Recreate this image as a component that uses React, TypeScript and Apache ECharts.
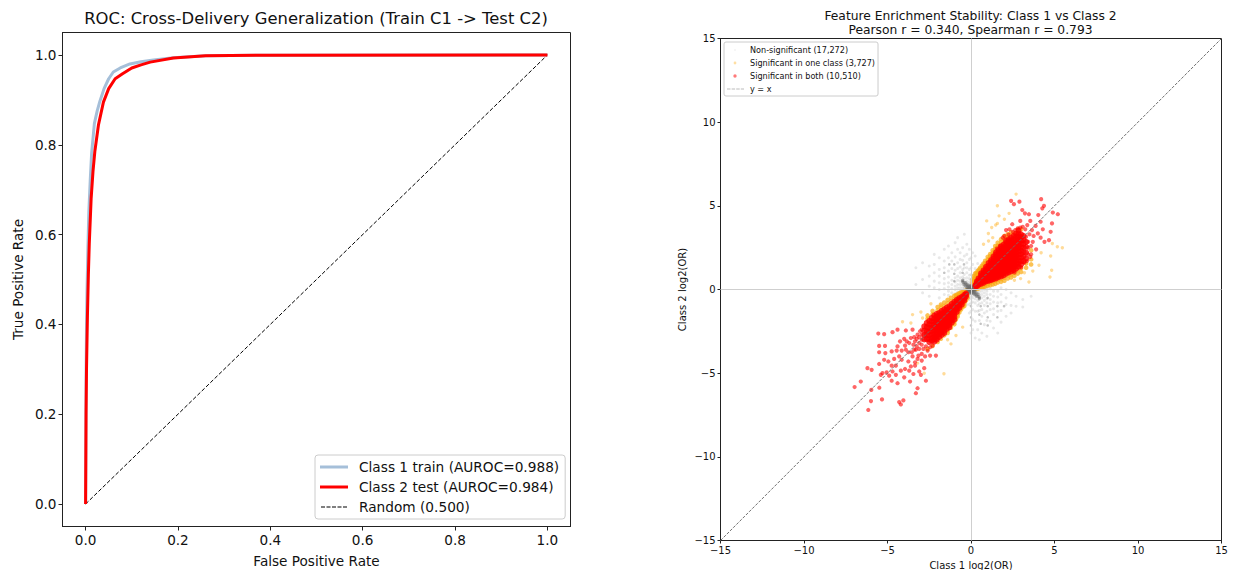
import React, { useEffect, useRef } from "react";
import * as echarts from "echarts";

const rocTicks = [0, 0.2, 0.4, 0.6, 0.8, 1.0];
const enrichTicks = [-15, -10, -5, 0, 5, 10, 15];

const trainFpr = [0, 0.0005, 0.001, 0.002, 0.003, 0.005, 0.007, 0.01, 0.013, 0.019, 0.025, 0.031, 0.04, 0.05, 0.06, 0.075, 0.096, 0.12, 0.147, 0.19, 0.26, 0.4, 1];
const trainTpr = [0, 0.12, 0.27, 0.4, 0.47, 0.57, 0.65, 0.72, 0.78, 0.847, 0.875, 0.897, 0.925, 0.947, 0.962, 0.971, 0.98, 0.985, 0.989, 0.994, 0.998, 0.9995, 1];
const testFpr = [0, 0.0005, 0.001, 0.002, 0.004, 0.006, 0.008, 0.012, 0.016, 0.02, 0.028, 0.0386, 0.05, 0.064, 0.08, 0.1, 0.12, 0.14, 0.19, 0.26, 0.4, 1];
const testTpr = [0, 0.1, 0.2, 0.3, 0.42, 0.51, 0.58, 0.68, 0.74, 0.785, 0.845, 0.895, 0.925, 0.947, 0.958, 0.971, 0.978, 0.984, 0.993, 0.998, 0.9995, 1];
const randomFpr = [0, 1];
const randomTpr = [0, 1];

type Col = [number, number[]];

const redUpperCore: Col[] = [
  [0.28, [0.18, 0.24, 0.3]],
  [0.35, [0.2, 0.28, 0.38, 0.48]],
  [0.45, [0.28, 0.34, 0.42, 0.54, 0.66]],
  [0.6, [0.34, 0.42, 0.5, 0.6, 0.72, 0.84, 0.96]],
  [0.75, [0.4, 0.48, 0.56, 0.66, 0.78, 0.9, 1.02, 1.14]],
  [0.9, [0.48, 0.54, 0.62, 0.74, 0.86, 0.98, 1.1, 1.22, 1.36]],
  [1.05, [0.52, 0.6, 0.68, 0.8, 0.92, 1.04, 1.16, 1.28, 1.42, 1.58]],
  [1.2, [0.56, 0.64, 0.76, 0.88, 1.0, 1.12, 1.24, 1.36, 1.5, 1.64, 1.76]],
  [1.35, [0.62, 0.72, 0.84, 0.96, 1.08, 1.2, 1.32, 1.44, 1.58, 1.72, 1.86, 1.98]],
  [1.5, [0.66, 0.76, 0.9, 1.04, 1.16, 1.28, 1.42, 1.56, 1.68, 1.82, 1.96, 2.1, 2.22]],
  [1.65, [0.74, 0.84, 0.98, 1.12, 1.26, 1.38, 1.5, 1.64, 1.78, 1.92, 2.06, 2.2, 2.36]],
  [1.8, [0.78, 0.9, 1.04, 1.18, 1.32, 1.46, 1.6, 1.74, 1.88, 2.02, 2.16, 2.3, 2.44, 2.58]],
  [1.95, [0.84, 0.98, 1.12, 1.26, 1.4, 1.54, 1.68, 1.82, 1.96, 2.1, 2.24, 2.38, 2.52, 2.68]],
  [2.1, [0.94, 1.08, 1.22, 1.36, 1.5, 1.64, 1.78, 1.92, 2.06, 2.2, 2.34, 2.48, 2.62, 2.78, 2.92]],
  [2.25, [1.02, 1.16, 1.3, 1.44, 1.58, 1.72, 1.86, 2.0, 2.14, 2.28, 2.42, 2.56, 2.7, 2.86, 3.0]],
  [2.4, [1.08, 1.22, 1.36, 1.5, 1.64, 1.78, 1.92, 2.06, 2.2, 2.34, 2.48, 2.62, 2.76, 2.92, 3.08]],
  [2.55, [1.16, 1.3, 1.44, 1.58, 1.72, 1.86, 2.0, 2.14, 2.28, 2.42, 2.56, 2.7, 2.84, 3.0, 3.2]],
  [2.7, [1.24, 1.4, 1.56, 1.72, 1.88, 2.04, 2.2, 2.36, 2.52, 2.68, 2.84, 3.0, 3.16, 3.32]],
  [2.85, [1.36, 1.54, 1.72, 1.9, 2.08, 2.26, 2.44, 2.62, 2.8, 2.98, 3.14, 3.34, 3.52]],
  [3.0, [1.5, 1.7, 1.92, 2.12, 2.32, 2.52, 2.72, 2.92, 3.12, 3.3]],
  [3.15, [1.7, 1.98, 2.24, 2.5, 2.74, 2.96, 3.2]],
  [3.3, [1.85, 2.2, 2.55, 2.85]],
];

const redUpperOutliers: number[][] = [
  [4.2, 5.4], [2.4, 5.3], [2.57, 5.1], [2.9, 5.25], [3.07, 4.75], [3.23, 4.55], [3.47, 4.5], [4.03, 4.45], [4.27, 4.85],
  [4.9, 4.6], [5.2, 4.5], [4.37, 5.0], [4.85, 3.95], [4.17, 4.05], [2.95, 4.1], [2.47, 3.9], [3.37, 3.85], [3.87, 3.8],
  [4.77, 3.45], [4.17, 3.1], [4.67, 2.95], [4.4, 2.85], [3.7, 2.85], [3.9, 2.4], [3.65, 3.55], [3.1, 3.75], [2.8, 3.65],
  [2.1, 3.55], [2.3, 3.6], [3.6, 2.1], [3.75, 3.2], [4.0, 3.35], [4.3, 3.6], [3.55, 4.1], [1.9, 3.1], [3.2, 1.6],
  [2.0, 3.2], [2.25, 3.28], [2.5, 3.45], [2.65, 3.55], [2.95, 3.7], [3.25, 3.6], [3.5, 3.3], [3.6, 2.6], [3.55, 1.95], [3.35, 1.7],
  [3.0, 1.32], [2.6, 1.02], [1.55, 2.45], [1.72, 2.6], [3.42, 2.1], [3.42, 2.5], [3.42, 2.85], [3.3, 3.15],
];

const redLowerCore: Col[] = [
  [-0.3, [-0.24, -0.32, -0.42]],
  [-0.4, [-0.32, -0.42, -0.54, -0.66]],
  [-0.55, [-0.44, -0.52, -0.64, -0.76, -0.9]],
  [-0.7, [-0.52, -0.6, -0.72, -0.84, -0.96, -1.1]],
  [-0.85, [-0.62, -0.72, -0.84, -0.96, -1.08, -1.2, -1.34]],
  [-1.0, [-0.74, -0.88, -1.0, -1.12, -1.24, -1.36, -1.5, -1.64, -1.8]],
  [-1.15, [-0.86, -1.0, -1.14, -1.28, -1.42, -1.56, -1.7, -1.84, -1.98]],
  [-1.3, [-1.0, -1.14, -1.28, -1.42, -1.56, -1.7, -1.84, -1.98, -2.12, -2.26]],
  [-1.45, [-1.08, -1.22, -1.36, -1.5, -1.64, -1.78, -1.92, -2.06, -2.2, -2.36]],
  [-1.6, [-1.18, -1.32, -1.46, -1.6, -1.74, -1.88, -2.02, -2.16, -2.3, -2.46, -2.6]],
  [-1.75, [-1.28, -1.42, -1.56, -1.7, -1.84, -1.98, -2.12, -2.26, -2.4, -2.56, -2.72]],
  [-1.9, [-1.4, -1.54, -1.68, -1.82, -1.96, -2.1, -2.24, -2.38, -2.52, -2.68, -2.84]],
  [-2.05, [-1.46, -1.62, -1.78, -1.94, -2.1, -2.26, -2.42, -2.58, -2.74, -2.9, -3.0]],
  [-2.2, [-1.56, -1.74, -1.92, -2.1, -2.28, -2.46, -2.64, -2.82, -2.98, -3.12]],
  [-2.35, [-1.7, -1.9, -2.1, -2.3, -2.5, -2.7, -2.9, -3.06]],
  [-2.5, [-1.88, -2.08, -2.3, -2.52, -2.74, -2.96, -3.14]],
  [-2.65, [-2.0, -2.24, -2.48, -2.72, -2.96]],
  [-2.8, [-2.2, -2.46, -2.72, -2.98]],
];

const redLowerTail: number[][] = [
  [-6.97, -5.83], [-6.6, -5.5], [-6.2, -4.7], [-5.95, -4.8], [-5.97, -6.0], [-5.99, -6.67], [-6.15, -7.2], [-5.33, -6.57],
  [-5.49, -5.87], [-5.55, -2.63], [-5.2, -2.67], [-5.5, -3.37], [-5.15, -3.37], [-5.5, -3.75], [-5.13, -3.8], [-4.7, -2.55],
  [-4.4, -2.4], [-3.9, -2.45], [-3.5, -2.4], [-4.75, -3.7], [-4.45, -3.65], [-4.4, -3.4], [-5.2, -4.2], [-4.95, -4.3],
  [-5.5, -4.45], [-4.3, -4.0], [-4.15, -4.2], [-4.5, -4.55], [-4.75, -4.55], [-5.05, -4.95], [-5.3, -5.0], [-5.4, -5.1],
  [-4.9, -5.15], [-4.7, -4.9], [-4.5, -5.1], [-4.75, -5.45], [-4.4, -5.6], [-4.0, -5.25], [-3.65, -5.5], [-3.6, -4.6],
  [-4.3, -6.73], [-4.05, -6.63], [-4.2, -6.87], [-3.3, -6.2], [-3.2, -5.9], [-2.7, -5.45], [-3.35, -4.55], [-3.1, -4.9],
  [-2.8, -4.7], [-2.95, -4.25], [-3.2, -4.15], [-3.5, -4.0], [-3.75, -4.3], [-3.9, -3.6], [-3.7, -3.2], [-3.55, -3.75],
  [-3.85, -3.1], [-3.6, -2.9], [-4.0, -2.95], [-3.95, -3.35], [-4.15, -3.65], [-3.35, -4.35], [-2.95, -3.85], [-2.75, -4.0],
  [-3.15, -3.95], [-2.6, -3.65], [-2.1, -3.95], [-2.45, -3.95], [-3.7, -4.85], [-3.95, -4.75], [-4.2, -4.85], [-3.45, -5.05],
  [-3.0, -5.1], [-4.6, -4.15], [-3.75, -3.75], [-3.3, -3.6], [-4.25, -3.1], [-3.45, -3.3], [-3.2, -2.7], [-3.35, -3.1],
  [-3.1, -3.55], [-3.25, -2.95], [-3.05, -2.5], [-3.4, -2.85], [-2.7, -3.4], [-2.45, -3.45], [-2.85, -3.55], [-2.3, -3.35],
  [-2.95, -2.4], [-2.95, -2.7], [-2.95, -3.0], [-2.95, -3.3], [-3.1, -2.85], [-3.1, -3.2], [-3.25, -3.4], [-3.4, -3.6],
];

const orangeUpperHalo: Col[] = [
  [0.1, [0.02, 0.32, 0.45, 0.58]],
  [0.18, [0.03, 0.08, 0.5, 0.65, 0.8]],
  [0.25, [0.04, 0.1, 0.6, 0.75, 0.95]],
  [0.32, [0.05, 0.12, 0.7, 0.85, 1.0]],
  [0.4, [0.06, 0.16, 0.82, 0.95, 1.1]],
  [0.48, [0.08, 0.18, 0.9, 1.05, 1.2]],
  [0.55, [0.1, 0.22, 1.02, 1.15, 1.3]],
  [0.65, [0.12, 0.24, 1.12, 1.28, 1.42]],
  [0.75, [0.15, 0.28, 1.3, 1.42, 1.55]],
  [0.85, [0.18, 0.32, 1.46, 1.58, 1.72]],
  [1.0, [0.22, 0.36, 1.66, 1.8, 1.95]],
  [1.15, [0.26, 0.42, 1.86, 2.0, 2.12]],
  [1.3, [0.3, 0.46, 2.08, 2.2, 2.34]],
  [1.45, [0.34, 0.52, 2.3, 2.44, 2.6]],
  [1.6, [0.42, 0.58, 2.48, 2.62, 2.8]],
  [1.8, [0.46, 0.62, 2.68, 2.84, 3.0]],
  [2.0, [0.52, 0.7, 2.84, 3.0, 3.2]],
  [2.2, [0.66, 0.84, 3.12, 3.3]],
  [2.4, [0.72, 0.9, 3.24, 3.42]],
  [2.6, [0.82, 1.0, 3.36]],
  [2.8, [0.95, 1.15, 3.58]],
  [3.0, [1.05, 1.28, 3.6]],
  [3.3, [1.3, 1.55]],
  [3.6, [1.5, 1.8, 2.35]],
];

const orangeLowerHalo: Col[] = [
  [-0.2, [-0.03, -0.08, -0.32, -0.5]],
  [-0.3, [-0.06, -0.14, -0.52, -0.66]],
  [-0.4, [-0.1, -0.2, -0.72, -0.84, -0.98]],
  [-0.5, [-0.14, -0.26, -0.92, -1.05]],
  [-0.6, [-0.18, -0.3, -1.06, -1.2]],
  [-0.7, [-0.22, -0.36, -1.24, -1.38]],
  [-0.8, [-0.28, -0.42, -1.48, -1.62]],
  [-0.9, [-0.34, -0.5, -1.64, -1.8]],
  [-1.0, [-0.38, -0.58, -1.94, -2.08]],
  [-1.2, [-0.5, -0.7, -2.14, -2.28]],
  [-1.4, [-0.62, -0.82, -2.46, -2.6]],
  [-1.6, [-0.78, -0.98, -2.74]],
  [-1.8, [-0.9, -1.1, -2.94]],
  [-2.0, [-1.05, -1.25, -3.14]],
  [-2.3, [-1.28, -1.48, -3.38]],
  [-2.6, [-1.55, -1.75, -3.55]],
];

const orangeOutliers: number[][] = [
  [2.7, 5.7], [1.58, 5.0], [2.28, 4.55], [1.68, 4.4], [0.94, 4.1], [1.58, 3.95], [1.48, 3.85], [1.24, 3.7], [1.04, 3.35],
  [4.87, 2.75], [5.17, 2.55], [5.47, 2.5], [4.77, 2.0], [4.83, 1.15], [4.73, 0.75], [4.07, 1.45], [3.47, 0.45], [2.97, 0.65],
  [-1.62, -5.03], [-2.8, -5.0], [-4.1, -1.93], [-3.5, -1.5], [-3.0, -1.35], [-2.4, -0.85], [-1.8, -0.95], [-1.4, -3.0],
  [-0.9, -2.75], [-0.5, -2.25], [1.3, 3.1], [0.75, 2.7], [1.05, 2.9], [2.0, 4.2], [3.7, 1.1], [4.2, 2.2], [3.2, 1.0], [2.6, 0.55],
  [-3.6, -2.0], [-2.9, -1.7], [-1.2, -3.25], [-3.2, -4.4],
];

const greyCenter: Col[] = [
  [-0.5, [0.45, 0.55]],
  [-0.42, [0.3, 0.42]],
  [-0.32, [0.2, 0.32, 0.4]],
  [-0.24, [0, 0.1, 0.2, 0.3]],
  [-0.16, [-0.12, -0.02, 0.08, 0.18, 0.26]],
  [-0.08, [-0.2, -0.12, -0.04, 0.04, 0.12, 0.2]],
  [0, [-0.24, -0.16, -0.08, 0, 0.08, 0.16, 0.24]],
  [0.08, [-0.2, -0.12, -0.04, 0.04, 0.12, 0.2]],
  [0.16, [-0.26, -0.18, -0.08, 0.02, 0.12]],
  [0.24, [-0.3, -0.2, -0.1, 0]],
  [0.32, [-0.4, -0.32, -0.2]],
  [0.42, [-0.42, -0.3]],
  [0.5, [-0.55, -0.45]],
];

const greyLattice: number[][] = [
  [-1, 0.94], [-1, 1.5], [-0.42, 1.5], [-1.6, 1], [-1.3, 1.5], [1, -1], [1, -1.66], [1.58, -1], [1.98, -1], [0.58, -1], [0, -1],
  [0, -1.66], [0, -2.15], [1, -2.15], [0.58, -2.05], [1.58, -1.66], [-0.5, 1], [-0.5, 0.5], [-1, 0.5], [0.5, -0.5], [1, -0.5], [0.5, -1.5],
];

const greyFaint: Col[] = [
  [-3.3, [1.3, 0.3]],
  [-2.9, [0.6, -0.2, 1.6]],
  [-2.5, [0.2, 0.8, 1.4, -0.4]],
  [-2.2, [0.1, 0.5, 1.0, 1.5, 2.1]],
  [-1.9, [-0.5, 0, 0.4, 0.8, 1.2, 1.9]],
  [-1.6, [-0.3, 0.05, 0.35, 0.65, 1.3, 1.7, 2.4]],
  [-1.35, [-0.35, -0.1, 0.15, 0.4, 0.75, 1.1, 1.9, 2.6]],
  [-1.15, [-0.2, 0.05, 0.3, 0.55, 1.25, 1.7, 2.2]],
  [-0.95, [-0.25, 0, 0.2, 0.45, 0.7, 1.15, 1.95, 2.8]],
  [-0.8, [-0.15, 0.1, 0.3, 0.55, 0.8, 1.25, 1.6, 2.4, 3.1]],
  [-0.65, [-0.4, -0.1, 0.1, 0.3, 0.5, 0.7, 1.0, 1.35, 1.8, 2.2]],
  [-0.5, [-0.7, -0.3, -0.1, 0.1, 0.3, 0.55, 0.75, 1.2, 1.75, 2.5]],
  [-0.4, [-0.55, -0.2, 0.1, 0.25, 0.45, 0.65, 0.9, 1.3, 2.0, 3.3]],
  [-0.25, [-0.9, -0.55, -0.3, 0.35, 0.5, 0.7, 1.0, 1.3, 1.6, 2.1, 2.7]],
  [-0.1, [-1.4, -0.9, -0.6, -0.4, 0.3, 0.45, 0.65, 0.85, 1.2, 1.8, 2.4]],
  [0, [-2.6, -1.3, -0.8, -0.5, 0.4, 0.6, 0.9, 1.3, 1.9]],
  [0.1, [-2.4, -1.8, -1.2, -0.75, -0.5, -0.35, 0.5, 0.85, 1.5, 2.2]],
  [0.25, [-2.9, -1.9, -1.3, -0.8, -0.55, -0.35, 0.4, 1.25, 2.0]],
  [0.4, [-2.4, -1.3, -0.95, -0.65, -0.4, -0.2, 0.85, 1.55]],
  [0.5, [-3.0, -1.85, -1.25, -0.85, -0.55, -0.3, -0.15]],
  [0.65, [-2.6, -1.6, -1.2, -0.8, -0.5, -0.3, -0.1, 1.3]],
  [0.8, [-2.1, -1.4, -0.95, -0.65, -0.4, -0.2, 0.0]],
  [0.95, [-2.8, -1.85, -1.3, -0.8, -0.55, -0.3, -0.1, 0.05]],
  [1.15, [-1.9, -1.2, -0.85, -0.6, -0.3, 0.05]],
  [1.35, [-2.3, -1.5, -1.15, -0.75, -0.4, -0.1]],
  [1.6, [-2.6, -1.3, -0.8, -0.45, -0.1]],
  [1.8, [-1.95, -1.25, -0.75, -0.3, 0.1]],
  [2.1, [-1.6, -0.9, -0.5, 0.0]],
  [2.4, [-1.4, -0.95, -0.2]],
  [2.7, [-1.0, -0.4]],
  [3.1, [-1.05, -0.6]],
  [3.6, [-0.4]],
];

const expand = (cols: Col[]) => cols.flatMap(([x, ys]) => ys.map((y) => [x, y]));
const neg = (v: number) => String(v).replace("-", "\u2212");
const FONT = "DejaVu Sans";

const rocLineIcon = "path://M0 0L0 0M28 14L28 14M0 5.5H28V8.5H0Z";
const rocDashIcon = "path://M0 0L0 0M28 14L28 14M1 6.5H5V7.5H1ZM6.5 6.5H10.5V7.5H6.5ZM12 6.5H16V7.5H12ZM17.5 6.5H21.5V7.5H17.5ZM23 6.5H27V7.5H23Z";
const dotIcon = (r: number) => `path://M0 0L0 0M18 10L18 10M${9 - r} 5A${r} ${r} 0 1 1 ${9 + r} 5A${r} ${r} 0 1 1 ${9 - r} 5Z`;
const smallDashIcon = "path://M0 0L0 0M18 10L18 10M1 4.7H4.5V5.3H1ZM5.6 4.7H9.1V5.3H5.6ZM10.2 4.7H13.7V5.3H10.2ZM14.8 4.7H18V5.3H14.8Z";

export default function App() {
  const ref = useRef<HTMLDivElement>(null);
  useEffect(() => {
    const chart = echarts.init(ref.current!, undefined, { renderer: "svg" });
    const baseAxisLine = { onZero: false, lineStyle: { color: "#222", width: 1 } };
    const rocAxis = (name: string, nameGap: number) => ({
      type: "value" as const,
      min: -0.05,
      max: 1.05,
      name,
      nameLocation: "middle" as const,
      nameGap,
      nameTextStyle: { fontFamily: FONT, fontSize: 13.6, color: "#111" },
      axisLine: baseAxisLine,
      splitLine: { show: false },
      axisTick: { length: 4, customValues: rocTicks, lineStyle: { color: "#222" } },
      axisLabel: {
        customValues: rocTicks,
        formatter: (v: number) => v.toFixed(1),
        fontFamily: FONT,
        fontSize: 13.6,
        color: "#111",
        margin: 6,
      },
    });
    const enrichAxis = (name: string, nameGap: number) => ({
      type: "value" as const,
      min: -15,
      max: 15,
      name,
      nameLocation: "middle" as const,
      nameGap,
      nameTextStyle: { fontFamily: FONT, fontSize: 10, color: "#111" },
      axisLine: baseAxisLine,
      splitLine: { show: false },
      axisTick: { length: 3, customValues: enrichTicks, lineStyle: { color: "#222" } },
      axisLabel: {
        customValues: enrichTicks,
        formatter: (v: number) => neg(v),
        fontFamily: FONT,
        fontSize: 10,
        color: "#111",
        margin: 5,
      },
    });
    const zip = (xs: number[], ys: number[]) => xs.map((x, i) => [x, ys[i]]);
    chart.setOption({
      animation: false,
      backgroundColor: "#fff",
      title: [
        {
          text: "ROC: Cross-Delivery Generalization (Train C1 -> Test C2)",
          left: 316,
          top: 10,
          padding: 0,
          textAlign: "center",
          textStyle: { fontFamily: FONT, fontSize: 16.4, fontWeight: "normal", color: "#111" },
        },
        {
          text: "Feature Enrichment Stability: Class 1 vs Class 2\nPearson r = 0.340, Spearman r = 0.793",
          left: 970.5,
          top: 9,
          padding: 0,
          textAlign: "center",
          textStyle: { fontFamily: FONT, fontSize: 12.3, fontWeight: "normal", color: "#111", lineHeight: 14 },
        },
      ],
      grid: [
        { left: 62.5, top: 32.5, width: 508, height: 494, show: true, borderColor: "#222", borderWidth: 1, outerBoundsMode: "none" },
        { left: 720.5, top: 38.5, width: 501, height: 502, show: true, borderColor: "#222", borderWidth: 1, outerBoundsMode: "none" },
      ],
      xAxis: [
        { ...rocAxis("False Positive Rate", 27), gridIndex: 0 },
        { ...enrichAxis("Class 1 log2(OR)", 19), gridIndex: 1 },
      ],
      yAxis: [
        { ...rocAxis("True Positive Rate", 38), gridIndex: 0 },
        { ...enrichAxis("Class 2 log2(OR)", 33), gridIndex: 1 },
      ],
      legend: [
        {
          left: 315,
          top: 455,
          orient: "vertical",
          itemWidth: 28,
          itemHeight: 14,
          itemGap: 6,
          padding: [5, 6, 5, 5],
          borderColor: "#ccc",
          borderWidth: 1,
          borderRadius: 3,
          backgroundColor: "rgba(255,255,255,0.8)",
          itemStyle: { borderWidth: 0 },
          textStyle: { fontFamily: FONT, fontSize: 13.7, color: "#111", padding: [0, 0, 0, 6] },
          data: [
            { name: "Class 1 train (AUROC=0.988)", icon: rocLineIcon },
            { name: "Class 2 test (AUROC=0.984)", icon: rocLineIcon },
            { name: "Random (0.500)", icon: rocDashIcon },
          ],
        },
        {
          left: 724,
          top: 42,
          orient: "vertical",
          itemWidth: 18,
          itemHeight: 10,
          itemGap: 3,
          padding: [3, 3, 2, 2],
          borderColor: "#ccc",
          borderWidth: 1,
          borderRadius: 2,
          backgroundColor: "rgba(255,255,255,0.8)",
          itemStyle: { borderWidth: 0 },
          textStyle: { fontFamily: FONT, fontSize: 8.1, color: "#111", padding: [0, 0, 0, 1] },
          data: [
            { name: "Non-significant (17,272)", icon: dotIcon(1), itemStyle: { color: "rgba(128,128,128,0.12)" } },
            { name: "Significant in one class (3,727)", icon: dotIcon(1.4), itemStyle: { color: "rgba(255,165,0,0.45)" } },
            { name: "Significant in both (10,510)", icon: dotIcon(1.7), itemStyle: { color: "rgba(255,0,0,0.65)" } },
            { name: "y = x", icon: smallDashIcon, itemStyle: { color: "#777" } },
          ],
        },
      ],
      series: [
        {
          name: "Class 1 train (AUROC=0.988)",
          type: "line",
          xAxisIndex: 0,
          yAxisIndex: 0,
          symbol: "none",
          data: zip(trainFpr, trainTpr),
          lineStyle: { color: "#a5bfd9", width: 3 },
          itemStyle: { color: "#a5bfd9" },
          z: 3,
        },
        {
          name: "Class 2 test (AUROC=0.984)",
          type: "line",
          xAxisIndex: 0,
          yAxisIndex: 0,
          symbol: "none",
          data: zip(testFpr, testTpr),
          lineStyle: { color: "#ff0000", width: 3 },
          itemStyle: { color: "#ff0000" },
          z: 4,
        },
        {
          name: "Random (0.500)",
          type: "line",
          xAxisIndex: 0,
          yAxisIndex: 0,
          symbol: "none",
          data: zip(randomFpr, randomTpr),
          lineStyle: { color: "#000", width: 1, type: [4, 2] },
          itemStyle: { color: "#000" },
          z: 2,
        },
        {
          name: "Non-significant (17,272)",
          type: "scatter",
          xAxisIndex: 1,
          yAxisIndex: 1,
          symbolSize: 3,
          data: expand(greyFaint),
          itemStyle: { color: "rgba(110,110,110,0.2)" },
          markLine: {
            silent: true,
            symbol: "none",
            label: { show: false },
            lineStyle: { color: "#cfcfcf", width: 1, type: "solid" },
            data: [{ xAxis: 0 }, { yAxis: 0 }],
          },
          z: 2,
        },
        {
          name: "Non-significant (17,272)",
          type: "scatter",
          xAxisIndex: 1,
          yAxisIndex: 1,
          symbolSize: 2.6,
          data: greyLattice,
          itemStyle: { color: "rgba(90,90,90,0.45)" },
          z: 2,
        },
        {
          name: "Significant in one class (3,727)",
          type: "scatter",
          xAxisIndex: 1,
          yAxisIndex: 1,
          symbolSize: 3.4,
          data: orangeOutliers,
          itemStyle: { color: "rgba(255,165,0,0.5)" },
          z: 3,
        },
        {
          name: "Significant in one class (3,727)",
          type: "scatter",
          xAxisIndex: 1,
          yAxisIndex: 1,
          symbolSize: 4.6,
          data: [...expand(orangeUpperHalo), ...expand(orangeLowerHalo)],
          itemStyle: { color: "rgba(250,170,20,0.9)" },
          z: 3,
        },
        {
          name: "Non-significant (17,272)",
          type: "scatter",
          xAxisIndex: 1,
          yAxisIndex: 1,
          symbolSize: 3.4,
          data: expand(greyCenter),
          itemStyle: { color: "rgba(105,105,105,0.6)" },
          z: 3,
        },
        {
          name: "Significant in both (10,510)",
          type: "scatter",
          xAxisIndex: 1,
          yAxisIndex: 1,
          symbolSize: 4.2,
          data: [...redUpperOutliers, ...redLowerTail],
          itemStyle: { color: "rgba(255,0,0,0.75)" },
          z: 4,
        },
        {
          name: "Significant in both (10,510)",
          type: "scatter",
          xAxisIndex: 1,
          yAxisIndex: 1,
          symbolSize: 6,
          data: [...expand(redUpperCore), ...expand(redLowerCore)],
          itemStyle: { color: "#ff0000" },
          z: 4,
        },
        {
          name: "y = x",
          type: "line",
          xAxisIndex: 1,
          yAxisIndex: 1,
          symbol: "none",
          data: [[-15, -15], [15, 15]],
          lineStyle: { color: "#707070", width: 1, type: [3, 1.5] },
          itemStyle: { color: "#707070" },
          z: 5,
        },
      ],
    });
    return () => chart.dispose();
  }, []);
  return <div ref={ref} style={{ position: "absolute", left: 0, top: 0, width: 1235, height: 570 }} />;
}
